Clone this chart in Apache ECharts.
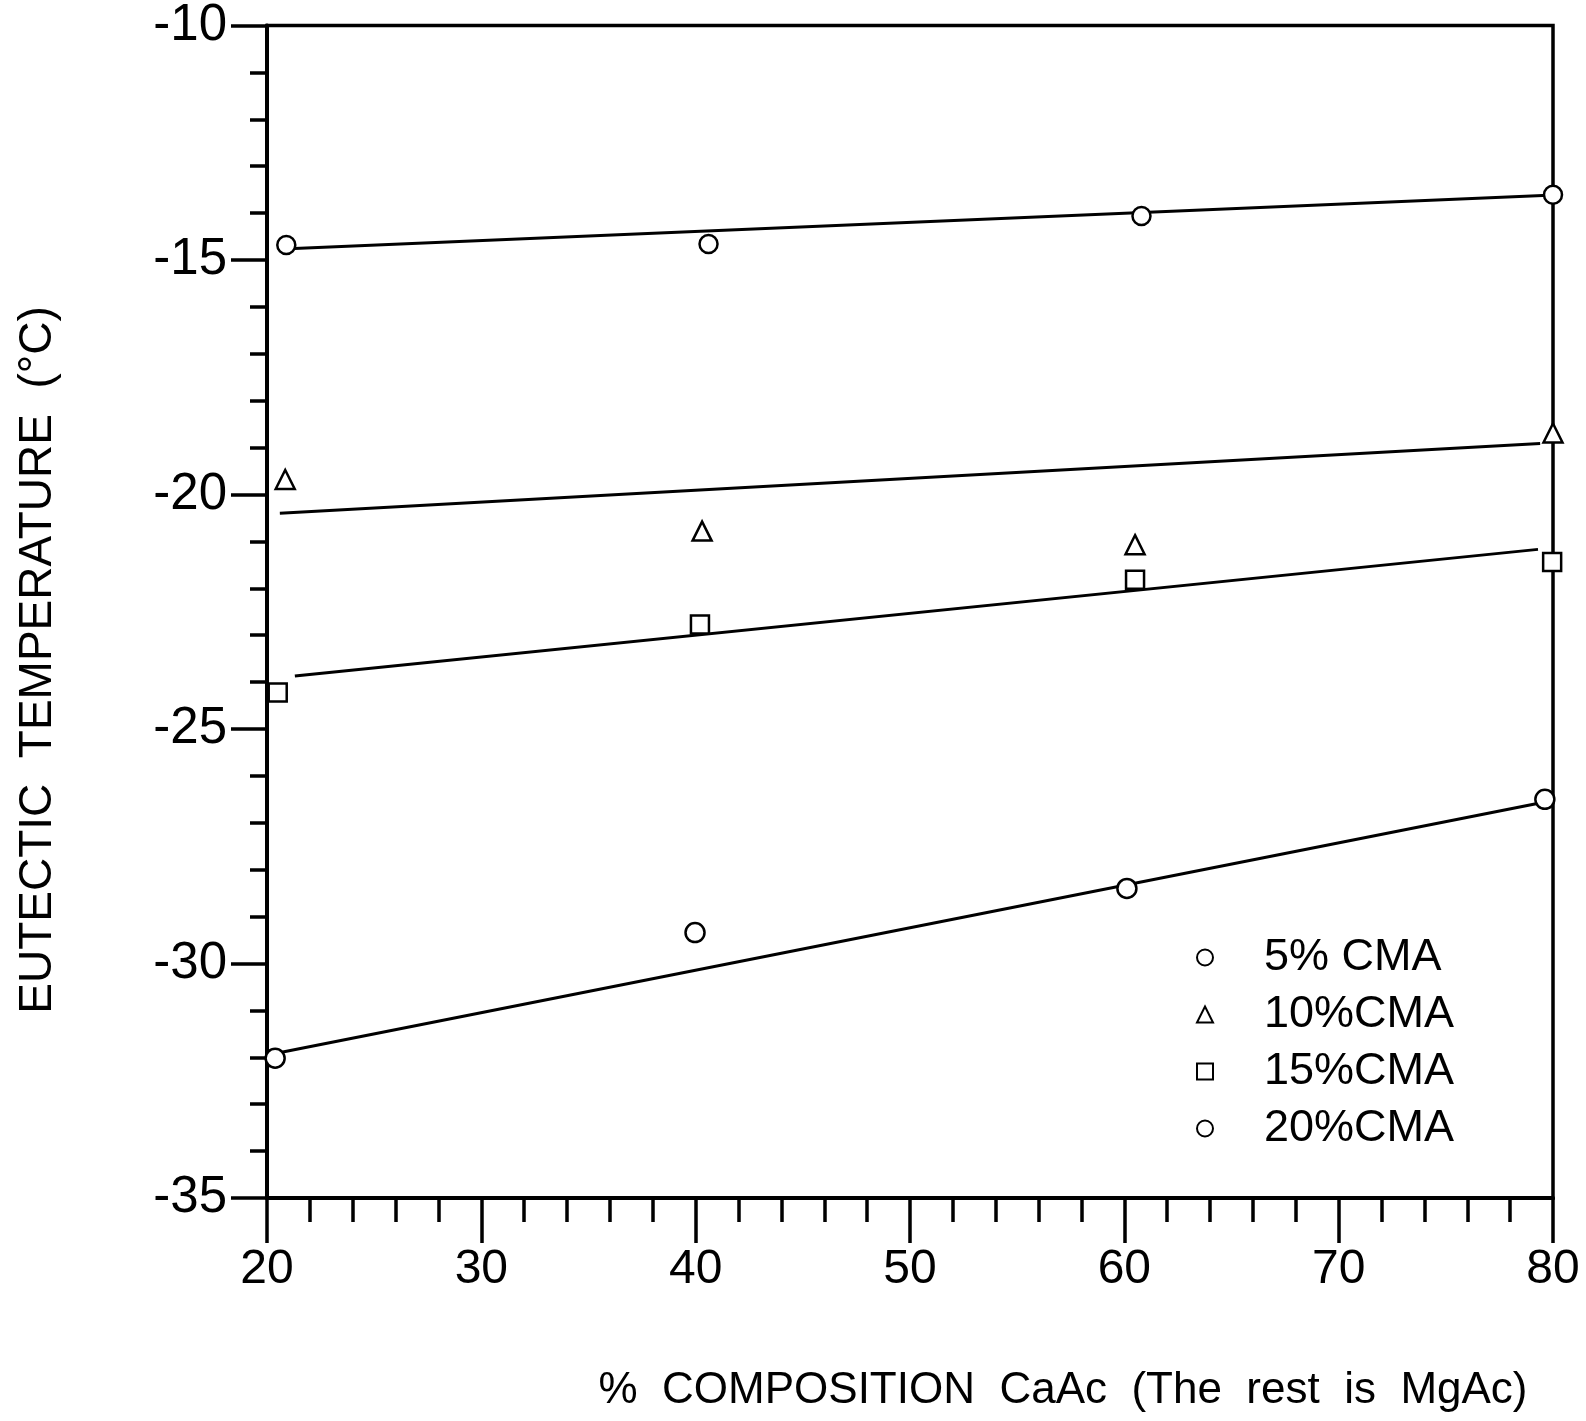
<!DOCTYPE html>
<html>
<head>
<meta charset="utf-8">
<script src="https://cdn.jsdelivr.net/npm/echarts@6/dist/echarts.min.js"></script>
<style>
html,body{margin:0;padding:0;background:#ffffff;}
#chart{width:1586px;height:1421px;}
</style>
</head>
<body>
<div id="chart"></div>
<script>
// ---- data ----
var seriesNames = ['5% CMA', '10%CMA', '15%CMA', '20%CMA'];
var seriesSymbols = ['circle', 'triangle', 'rect', 'circle'];
var cma5  = [[20.9, -14.68], [40.6, -14.66], [60.8, -14.06], [80.0, -13.61]];
var cma10 = [[20.85, -19.68], [40.3, -20.78], [60.5, -21.07], [80.0, -18.69]];
var cma15 = [[20.5, -24.22], [40.2, -22.77], [60.5, -21.82], [79.96, -21.44]];
var cma20 = [[20.38, -32.02], [39.97, -29.34], [60.12, -28.40], [79.62, -26.50]];
// fitted lines (end points as drawn)
var fit5  = [[21.0, -14.76], [79.8, -13.62]];
var fit10 = [[20.6, -20.40], [79.4, -18.91]];
var fit15 = [[21.3, -23.87], [79.3, -21.17]];
var fit20 = [[20.5, -31.91], [79.8, -26.54]];
var xTicks = [20, 30, 40, 50, 60, 70, 80];
var yTicks = [-35, -30, -25, -20, -15, -10];
var yTitle = 'EUTECTIC  TEMPERATURE  (°C)';
var xTitle = '%  COMPOSITION  CaAc  (The  rest  is  MgAc)';

var FONT = '"Liberation Sans", Arial, Helvetica, sans-serif';
var chart = echarts.init(document.getElementById('chart'), null, {renderer: 'canvas'});

var pts = [cma5, cma10, cma15, cma20];
var fits = [fit5, fit10, fit15, fit20];
var sizes = [18, 19, 18, 19];
var series = [];
fits.forEach(function (f) {
  series.push({
    type: 'line', data: f, symbol: 'none', silent: true, z: 2,
    lineStyle: {color: '#000', width: 3}
  });
});
pts.forEach(function (p, i) {
  series.push({
    name: seriesNames[i], type: 'scatter', data: p, z: 3,
    symbol: seriesSymbols[i], symbolSize: sizes[i],
    itemStyle: {color: '#fff', borderColor: '#000', borderWidth: 2.5, opacity: 1}
  });
});

chart.setOption({
  backgroundColor: '#ffffff',
  animation: false,
  grid: {left: 267, right: 33, top: 25, bottom: 223, show: true, borderColor: '#000', borderWidth: 3.5, backgroundColor: 'transparent'},
  xAxis: {
    type: 'value', min: xTicks[0], max: xTicks[xTicks.length - 1], interval: 10,
    axisLine: {show: true, onZero: false, lineStyle: {color: '#000', width: 4}},
    axisTick: {show: true, inside: false, length: 45, lineStyle: {color: '#000', width: 3.5}},
    minorTick: {show: true, splitNumber: 5, length: 24, lineStyle: {color: '#000', width: 3.5}},
    splitLine: {show: false},
    axisLabel: {color: '#000', fontSize: 48, fontFamily: FONT, margin: 48}
  },
  yAxis: {
    type: 'value', min: yTicks[0], max: yTicks[yTicks.length - 1], interval: 5,
    axisLine: {show: true, onZero: false, lineStyle: {color: '#000', width: 4}},
    axisTick: {show: true, inside: false, length: 36, lineStyle: {color: '#000', width: 3.5}},
    minorTick: {show: true, splitNumber: 5, length: 17, lineStyle: {color: '#000', width: 3.5}},
    splitLine: {show: false},
    axisLabel: {color: '#000', fontSize: 51, fontFamily: FONT, margin: 40}
  },
  legend: {
    show: true, orient: 'vertical', left: 1191, top: 924,
    data: seriesNames,
    itemWidth: 16, itemHeight: 16, itemGap: 0,
    textStyle: {color: '#000', fontSize: 45, fontFamily: FONT, lineHeight: 57, padding: [0, 0, 0, 46]}
  },
  graphic: [
    {type: 'text', x: 38, y: 660, rotation: Math.PI / 2,
     style: {text: yTitle, font: '46px ' + FONT, fill: '#000', textAlign: 'center', textVerticalAlign: 'middle'}},
    {type: 'text', x: 1063, y: 1391,
     style: {text: xTitle, font: '44px ' + FONT, fill: '#000', textAlign: 'center', textVerticalAlign: 'middle'}}
  ],
  series: series
});
</script>
</body>
</html>
